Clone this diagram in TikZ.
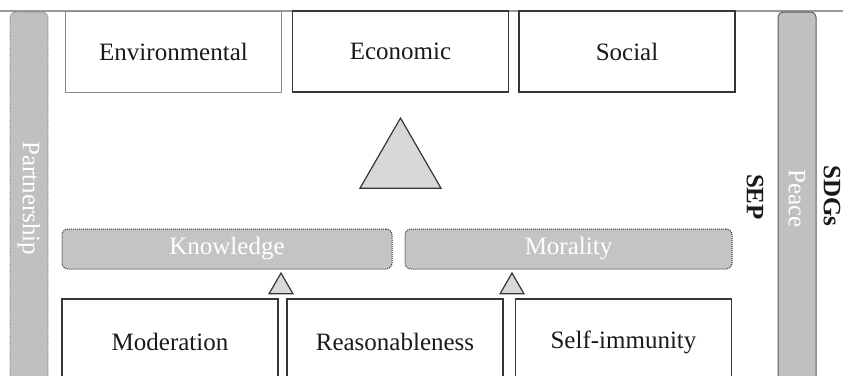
\documentclass[tikz,border=0pt]{standalone}
\usepackage{fontspec}
\setmainfont{Liberation Serif}
\usetikzlibrary{shapes.geometric}
\definecolor{barfill}{HTML}{C0C0C2}
\definecolor{pillfill}{HTML}{C4C4C4}
\definecolor{edge}{HTML}{363636}
\definecolor{lightedge}{HTML}{8A8A8A}
\definecolor{ink}{HTML}{1A1A1A}
\definecolor{trifill}{HTML}{D8D8D8}
\definecolor{rule}{HTML}{9A9A9A}

\begin{document}
\begin{tikzpicture}[x=1pt,y=-1pt,
  every node/.style={font=\fontsize{25}{30}\selectfont, inner sep=0pt, outer sep=0pt},
  pillar/.style={rectangle, rounded corners=5pt, fill=barfill, text=white,
    rotate=-90, minimum width=373pt, minimum height=38pt},
  pillbox/.style={rectangle, rounded corners=6pt, fill=pillfill, draw=edge,
    densely dotted, line width=1pt, text=white,
    minimum height=40pt},
  dimbox/.style={rectangle, draw=edge, line width=1.4pt, text=ink,
    minimum width=216pt},
  uptri/.style={regular polygon, regular polygon sides=3, fill=trifill,
    draw=edge, line width=1.2pt},
  sidelabel/.style={rotate=-90, font=\fontsize{25}{30}\selectfont\bfseries, text=ink}
]
\useasboundingbox (0,0) rectangle (843,375);
\clip (0,0) rectangle (843,375);

% frame line along the top
\coordinate (tl) at (0,11);
\coordinate (tr) at (843,11);
\draw[rule, line width=1.1pt] (tl) -- (tr);

% outer pillars
\node[pillar, draw=edge!75, densely dotted, line width=0.8pt] (partner) at (29,198.5) {Partnership};
\node[pillar, draw=edge!80, line width=1pt] (peace) at (797,198.5) {Peace};

% three dimensions
\node[dimbox, draw=lightedge, line width=1pt, minimum height=81pt] (env) at (173.5,51.5) {Environmental};
\node[dimbox, minimum height=81pt] (eco) at (400.5,51.5) {Economic};
\node[dimbox, minimum height=81pt] (soc) at (627,51.5) {Social};

% central triangle
\node[uptri, minimum size=93.5pt] (balance) at (400.5,164.8) {};

% conditions
\node[pillbox, minimum width=330pt] (know) at (227,249) {Knowledge};
\node[pillbox, minimum width=327pt] (moral) at (568.5,249) {Morality};

% small triangles
\node[uptri, minimum size=27.7pt] (upA) at (281,286.9) {};
\node[uptri, minimum size=27.7pt] (upB) at (512,286.9) {};

% three principles
\node[dimbox, minimum height=86pt] (mod) at (170,342) {Moderation};
\node[dimbox, minimum height=86pt] (rea) at (395,342) {Reasonableness};
\node[dimbox, minimum height=86pt] (imm) at (623.5,342) {Self-immunity};

% side labels
\node[sidelabel] (sep) at (755,197) {SEP};
\node[sidelabel] (sdg) at (832,196) {SDGs};
\end{tikzpicture}
\end{document}
